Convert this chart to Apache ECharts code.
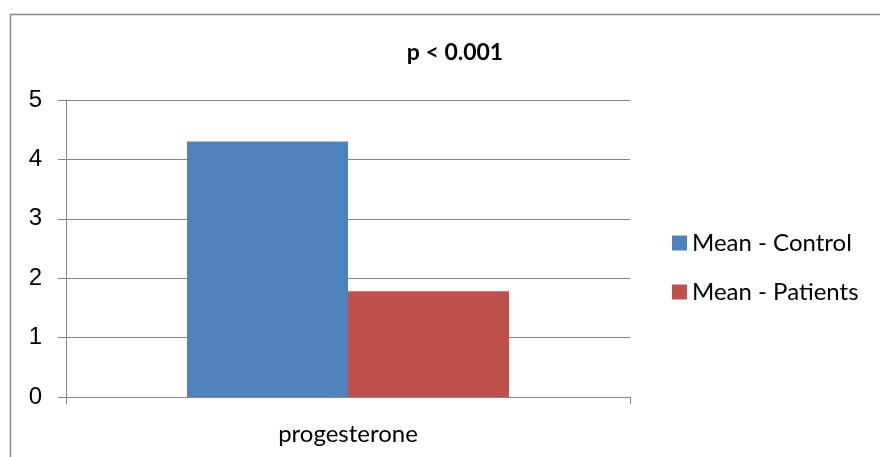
<!DOCTYPE html>
<html>
<head>
<meta charset="utf-8">
<script src="https://cdn.jsdelivr.net/npm/echarts@6/dist/echarts.min.js"></script>
<style>html,body{margin:0;padding:0;background:#fff;}#c{width:880px;height:457px;}</style>
</head>
<body>
<div id="c"></div>
<script>
const categories = ['progesterone'];
const seriesNames = ['Mean - Control', 'Mean - Patients'];
const controlValues = [4.3];
const patientValues = [1.78];
const yTicks = [0, 1, 2, 3, 4, 5];

const chart = echarts.init(document.getElementById('c'), null, {renderer: 'canvas'});
chart.setOption({
  animation: false,
  backgroundColor: '#fff',
  graphic: [{
    type: 'rect', silent: true,
    shape: {x: 10.5, y: 14.5, width: 900, height: 500},
    style: {fill: 'none', stroke: '#8a8a8a', lineWidth: 1.5}
  }],
  title: {
    text: 'p < 0.001', left: 450, top: 36, padding: 5, textAlign: 'center',
    textStyle: {fontFamily: 'Lato', fontWeight: 'bold', fontSize: 23, color: '#000'}
  },
  legend: {
    orient: 'vertical', left: 672, top: 231, padding: 0,
    itemWidth: 15, itemHeight: 15, itemGap: 25,
    icon: 'rect',
    textStyle: {fontFamily: 'Lato', fontSize: 24, color: '#000', lineHeight: 24},
    data: seriesNames
  },
  grid: {left: 66, right: 250, top: 100, bottom: 60, containLabel: false},
  xAxis: {
    type: 'category', data: categories,
    axisLine: {lineStyle: {color: '#868686', width: 1}},
    axisTick: {show: true, length: 7, lineStyle: {color: '#868686'}},
    axisLabel: {fontFamily: 'Lato', fontSize: 24, color: '#000', margin: 25}
  },
  yAxis: {
    type: 'value', min: yTicks[0], max: yTicks[yTicks.length - 1], interval: 1,
    axisLine: {show: true, lineStyle: {color: '#868686', width: 1}},
    axisTick: {show: true, length: 8, lineStyle: {color: '#868686'}},
    splitLine: {show: true, lineStyle: {color: '#868686', width: 1}},
    axisLabel: {fontFamily: 'Liberation Sans', fontSize: 24, color: '#000', margin: 24}
  },
  series: [
    {name: seriesNames[0], type: 'bar', data: controlValues, itemStyle: {color: '#4F81BD'}, barGap: '0%', barCategoryGap: '42.9%'},
    {name: seriesNames[1], type: 'bar', data: patientValues, itemStyle: {color: '#C0504D'}, barGap: '0%', barCategoryGap: '42.9%'}
  ]
});
</script>
</body>
</html>
